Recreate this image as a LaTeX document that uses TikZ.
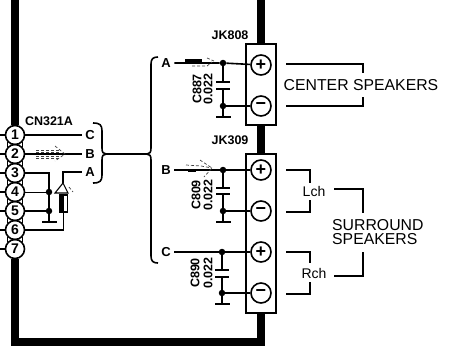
\documentclass[tikz,border=0pt]{standalone}
\usepackage{fontspec}
\setmainfont{Liberation Sans}
\usetikzlibrary{positioning,calc}

\tikzset{
    wire/.style={line width=1.6pt},
    notch/.style={line width=1.1pt},
    trace/.style={line width=8pt},
    sig/.style={line width=0.7pt, densely dashed, black!75},
    pinno/.style={draw, circle, line width=1.6pt, minimum size=19pt, inner sep=0pt, font=\fontsize{14}{14}\selectfont\bfseries},
    term/.style={draw, circle, line width=1.6pt, minimum size=20pt, inner sep=0pt, font=\fontsize{18}{18}\selectfont\bfseries},
    jack/.style={draw, line width=1.6pt, minimum width=30pt, inner sep=0pt},
    dotnode/.style={circle, fill, minimum size=6.5pt, inner sep=0pt},
    plate/.style={fill, minimum width=14pt, minimum height=2pt, inner sep=0pt},
    gnd/.style={fill, minimum width=15pt, minimum height=2.6pt, inner sep=0pt},
    wlabel/.style={inner sep=3.5pt, font=\fontsize{13}{13}\selectfont\bfseries},
    title/.style={inner sep=0pt, font=\fontsize{12.5}{12.5}\selectfont\bfseries},
    capval/.style={inner sep=0pt, rotate=90, font=\fontsize{12.5}{12.5}\selectfont\bfseries},
    spk/.style={inner sep=0pt, align=left, font=\fontsize{15.8}{14.5}\selectfont},
    chan/.style={inner sep=0pt, font=\fontsize{14}{14}\selectfont}
}

\begin{document}
\begin{tikzpicture}[x=1pt, y=-1pt, node distance=-1.6pt]
    \useasboundingbox (0,0) rectangle (462,360);

    % connector pins
    \node [pinno] (p1) at (15,135) {1};
    \node [pinno, below=of p1] (p2) {2};
    \node [pinno, below=of p2] (p3) {3};
    \node [pinno, below=of p3] (p4) {4};
    \node [pinno, below=of p4] (p5) {5};
    \node [pinno, below=of p5] (p6) {6};
    \node [pinno, below=of p6] (p7) {7};
    \node [title] (CN) at (49,121) {CN321A};

    \coordinate (s1) at (0,135);
    \coordinate (s2) at (0,154);
    \coordinate (s3) at (0,173);
    \coordinate (s4) at (0,192);
    \coordinate (s5) at (0,211);
    \coordinate (s6) at (0,230);
    \coordinate (s7) at (0,249);
    \draw [wire] (s1) -- (p1);
    \draw [wire] (s2) -- (p2);
    \draw [wire] (s3) -- (p3);
    \draw [wire] (s4) -- (p4);
    \draw [wire] (s5) -- (p5);
    \draw [wire] (s6) -- (p6);
    \draw [wire] (s7) -- (p7);

    \draw [notch] (p1.south west) -- (p2.north west) (p1.south east) -- (p2.north east);
    \draw [notch] (p2.south west) -- (p3.north west) (p2.south east) -- (p3.north east);
    \draw [notch] (p3.south west) -- (p4.north west) (p3.south east) -- (p4.north east);
    \draw [notch] (p4.south west) -- (p5.north west) (p4.south east) -- (p5.north east);
    \draw [notch] (p5.south west) -- (p6.north west) (p5.south east) -- (p6.north east);
    \draw [notch] (p6.south west) -- (p7.north west) (p6.south east) -- (p7.north east);

    % jacks
    \node [jack, minimum height=81pt] (JK808) at (261,84.5) {};
    \node [jack, minimum height=159pt] (JK809) at (261,233.5) {};
    \node [title] (JKa) at (230,35) {JK808};
    \node [title] (JKb) at (230,140) {JK309};
    \node [term] (t1) at (261,65) {+};
    \node [term] (t2) at (261,106) {−};
    \node [term] (t3) at (261,170) {+};
    \node [term] (t4) at (261,211) {−};
    \node [term] (t5) at (261,252) {+};
    \node [term] (t6) at (261,293) {−};

    % heavy frame
    \coordinate (frameA) at (15,0);
    \coordinate (frameB) at (261,0);
    \coordinate (frameC) at (261,342);
    \coordinate (frameD) at (15,342);
    \draw [trace] (frameA) -- (p1);
    \draw [trace] (frameB) -- (JK808);
    \draw [trace] (JK808) -- (JK809);
    \draw [trace, line join=miter] (JK809) -- (frameC) -- (frameD) -- (p7);

    % labels beside the pins
    \node [wlabel] (lC) at (90,135) {C};
    \node [wlabel] (lB) at (90,154) {B};
    \node [wlabel] (lA) at (90,172) {A};
    \draw [wire] (p1) -- (lC);
    \draw [wire] (p2) -- (lB);

    % pins 3 to 6
    \node [dotnode] (j4) at (49,192) {};
    \node [dotnode] (j5) at (49,211) {};
    \node [gnd] (g0) at (49,222) {};
    \draw [wire] (p3) -- (p3 -| j4) -- (g0);
    \draw [line width=1pt] (p4) -- (j4);
    \draw [wire] (p5) -- (j5);

    \node [draw, line width=1.2pt, minimum width=8pt, minimum height=17pt, inner sep=0pt] (shunt) at (63.5,203.5) {};
    \fill (shunt.north west) rectangle (shunt.south);
    \coordinate (apex) at (63,183);
    \draw [wire] (lA) -- (lA -| apex) -- (apex);
    \draw [line width=1.1pt] (apex) -- (55,193) -- (68,193) -- cycle;
    \draw [wire] (p6) -- (p6 -| shunt) -- (shunt);
    \draw [sig] (69,187) -- (73,192);

    % signal arrows
    \draw [sig] (36,150) -- (60,150);
    \draw [sig] (36,152) -- (60,152);
    \draw [sig] (36,156) -- (60,156);
    \draw [sig] (36,158) -- (60,158);
    \draw [sig] (55,146) -- (65,154) -- (55,161);

    % braces
    \coordinate (bA) at (93,123);
    \coordinate (bB) at (93,183);
    \coordinate (bC) at (106,154);
    \coordinate (bD) at (147,154);
    \coordinate (bE) at (158,57);
    \coordinate (bF) at (158,263);
    \draw [wire] (bA) .. controls (100,123) and (102,125) .. (102,131) -- (102,148) .. controls (102,152) and (103,154) .. (bC)
        .. controls (103,154) and (102,156) .. (102,160) -- (102,175) .. controls (102,181) and (100,183) .. (bB);
    \draw [wire] (bC) -- (bD);
    \draw [wire] (bE) .. controls (153,57) and (151,59) .. (151,64) -- (151,148) .. controls (151,152) and (150,154) .. (bD)
        .. controls (150,154) and (151,156) .. (151,160) -- (151,256) .. controls (151,261) and (153,263) .. (bF);

    % centre jack
    \node [wlabel] (wA) at (166,63) {A};
    \node [dotnode] (j1) at (223,63) {};
    \node [dotnode] (j2) at (223,106) {};
    \node [plate] (c1a) at (223,82) {};
    \node [plate] (c1b) at (223,89) {};
    \node [gnd] (g1) at (223,117) {};
    \node [capval] (C887) at (197,89) {C887};
    \node [capval] (v1) at (208,89) {0.022};
    \draw [wire] (wA) -- (j1) -- (t1);
    \draw [wire] (j1) -- (c1a);
    \draw [wire] (c1b) -- (j2) -- (g1);
    \draw [wire] (j2) -- (t2);
    \draw [line width=3.5pt] (185,60.5) -- (202,60.5);
    \draw [sig] (192,66) -- (207,66) -- (212,62);
    \draw [sig] (207,58) -- (214,61);

    % surround jack, left channel
    \node [wlabel] (wB) at (166,170) {B};
    \node [dotnode] (j3) at (223,170) {};
    \node [dotnode] (j6) at (223,211) {};
    \node [plate] (c2a) at (223,188) {};
    \node [plate] (c2b) at (223,194) {};
    \node [gnd] (g2) at (223,222) {};
    \node [capval] (C809) at (196,195) {C809};
    \node [capval] (v2) at (208,195) {0.022};
    \draw [wire] (wB) -- (j3) -- (t3);
    \draw [wire] (j3) -- (c2a);
    \draw [wire] (c2b) -- (j6) -- (g2);
    \draw [wire] (j6) -- (t4);
    \draw [line width=3pt] (188,170) -- (196,170);
    \draw [sig] (186,165) -- (201,166) -- (212,168);
    \draw [sig] (200,160) -- (212,168) -- (204,177);

    % surround jack, right channel
    \node [wlabel] (wC) at (166,252) {C};
    \node [dotnode] (j7) at (222,252) {};
    \node [dotnode] (j8) at (222,293) {};
    \node [plate] (c3a) at (222,270) {};
    \node [plate] (c3b) at (222,277) {};
    \node [gnd] (g3) at (222,304) {};
    \node [capval] (C890) at (195,273) {C890};
    \node [capval] (v3) at (208,273) {0.022};
    \draw [wire] (wC) -- (j7) -- (t5);
    \draw [wire] (j7) -- (c3a);
    \draw [wire] (c3b) -- (j8) -- (g3);
    \draw [wire] (j8) -- (t6);

    % speakers
    \node [spk] (CS) at (361,85) {CENTER SPEAKERS};
    \node [spk, right] (SS) at (332,232) {SURROUND\\SPEAKERS};
    \node [chan] (Lch) at (314,191) {Lch};
    \node [chan] (Rch) at (314,273) {Rch};

    \coordinate (a1) at (286,64);
    \coordinate (a2) at (363,64);
    \coordinate (a3) at (363,73);
    \coordinate (a4) at (286,106);
    \coordinate (a5) at (363,106);
    \coordinate (a6) at (363,97);
    \draw [wire] (a1) -- (a2) -- (a3);
    \draw [wire] (a4) -- (a5) -- (a6);

    \coordinate (b1) at (286,170);
    \coordinate (b2) at (310,170);
    \coordinate (b3) at (310,183);
    \coordinate (b4) at (286,212);
    \coordinate (b5) at (310,212);
    \coordinate (b6) at (310,200);
    \draw [wire] (b1) -- (b2) -- (b3);
    \draw [wire] (b4) -- (b5) -- (b6);

    \coordinate (d1) at (286,252);
    \coordinate (d2) at (310,252);
    \coordinate (d3) at (310,263);
    \coordinate (d4) at (286,294);
    \coordinate (d5) at (310,294);
    \coordinate (d6) at (310,282);
    \draw [wire] (d1) -- (d2) -- (d3);
    \draw [wire] (d4) -- (d5) -- (d6);

    \coordinate (e1) at (334,189);
    \coordinate (e2) at (363,189);
    \coordinate (e3) at (363,213);
    \coordinate (e4) at (334,276);
    \coordinate (e5) at (363,276);
    \coordinate (e6) at (363,252);
    \draw [wire] (e1) -- (e2) -- (e3);
    \draw [wire] (e4) -- (e5) -- (e6);
\end{tikzpicture}
\end{document}
